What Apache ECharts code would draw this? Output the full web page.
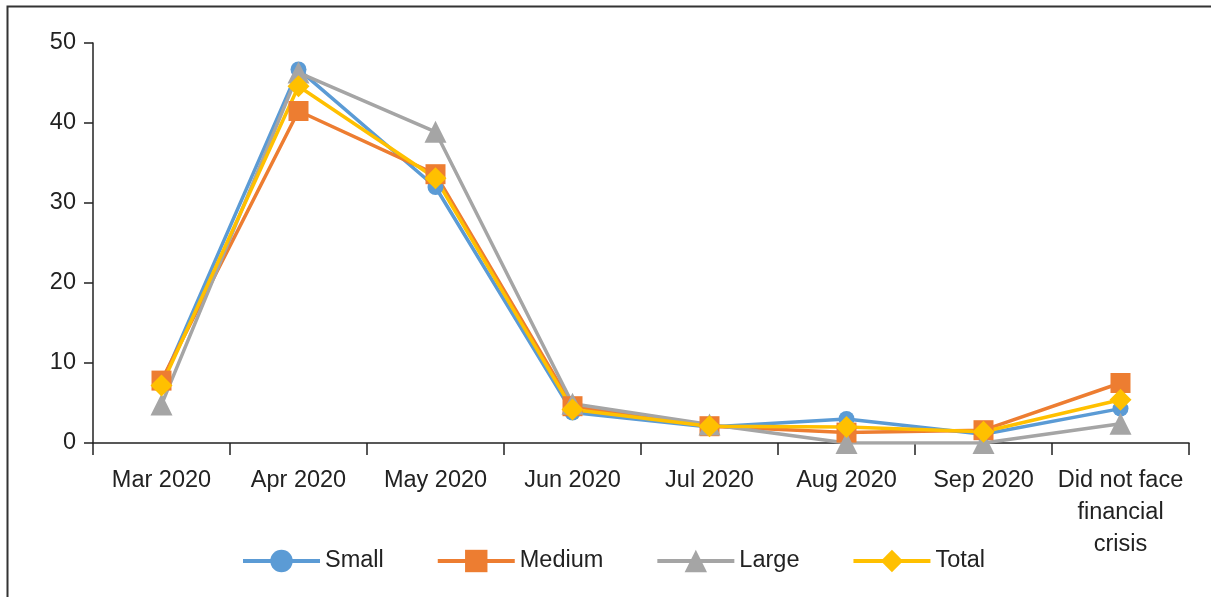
<!DOCTYPE html>
<html>
<head>
<meta charset="utf-8">
<script src="https://cdn.jsdelivr.net/npm/echarts@6/dist/echarts.min.js"></script>
<style>
  html, body { margin: 0; padding: 0; background: #fff; }
  #chart { width: 1211px; height: 597px; }
</style>
</head>
<body>
<div id="chart"></div>
<script>
// months when the firms faced a financial crisis (%)
var categories = ['Mar 2020', 'Apr 2020', 'May 2020', 'Jun 2020', 'Jul 2020', 'Aug 2020', 'Sep 2020', 'Did not face\nfinancial\ncrisis'];
var smallData  = [7.4, 46.7, 32.0, 3.8, 2.0, 3.0, 1.1, 4.3];
var mediumData = [7.8, 41.5, 33.6, 4.6, 2.1, 1.3, 1.6, 7.5];
var largeData  = [4.8, 46.3, 38.9, 4.9, 2.3, 0, 0, 2.4];
var totalData  = [7.2, 44.6, 33.1, 4.2, 2.1, 2.0, 1.4, 5.4];
var yTicks = { min: 0, max: 50, interval: 10 };

var font = "'Liberation Sans', Arial, sans-serif";
var chart = echarts.init(document.getElementById('chart'));

function line(name, data, color, symbol, size) {
    return {
        name: name,
        type: 'line',
        data: data,
        symbol: symbol,
        symbolSize: size,
        color: color,
        lineStyle: { width: 3.5, color: color },
        itemStyle: { color: color },
        animation: false
    };
}

chart.setOption({
    backgroundColor: '#fff',
    textStyle: { fontFamily: font },
    // outer frame of the figure (only top and left sides show)
    graphic: [{
        type: 'rect',
        shape: { x: 7.5, y: 6.5, width: 1400, height: 800 },
        style: { fill: 'none', stroke: '#333', lineWidth: 2 },
        silent: true
    }],
    grid: { left: 93, right: 22, top: 43, bottom: 154 },
    legend: {
        top: 544,
        left: 236,
        itemWidth: 77,
        itemHeight: 28,
        itemGap: 52,
        lineStyle: { width: 4 },
        textStyle: { fontSize: 23.5, color: '#222', fontFamily: font },
        data: ['Small', 'Medium', 'Large', 'Total']
    },
    xAxis: {
        type: 'category',
        data: categories,
        boundaryGap: true,
        axisLine: { lineStyle: { color: '#222', width: 1.5 } },
        axisTick: { show: true, length: 12, interval: 0, lineStyle: { color: '#222', width: 1.5 } },
        axisLabel: { interval: 0, fontSize: 23.5, color: '#222', margin: 22, lineHeight: 32, fontFamily: font }
    },
    yAxis: {
        type: 'value',
        min: yTicks.min,
        max: yTicks.max,
        interval: yTicks.interval,
        splitLine: { show: false },
        axisLine: { show: true, lineStyle: { color: '#222', width: 1.5 } },
        axisTick: { show: true, length: 9, lineStyle: { color: '#222', width: 1.5 } },
        axisLabel: { fontSize: 23.5, color: '#222', margin: 17, fontFamily: font }
    },
    series: [
        line('Small', smallData, '#5B9BD5', 'circle', 16),
        line('Medium', mediumData, '#ED7D31', 'rect', 20),
        line('Large', largeData, '#A5A5A5', 'triangle', 22),
        line('Total', totalData, '#FFC000', 'diamond', 22)
    ]
});
</script>
</body>
</html>
